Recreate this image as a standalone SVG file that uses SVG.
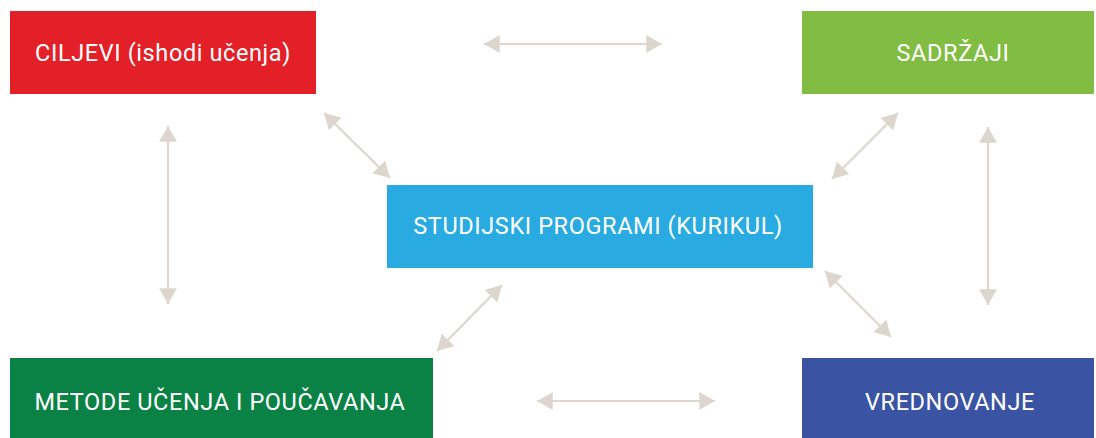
<svg xmlns="http://www.w3.org/2000/svg" width="1096" height="438" viewBox="0 0 1096 438">
<style>
.lbl{font-family:Roboto,"Liberation Sans",sans-serif;font-size:23.5px;fill:#fff;text-anchor:middle;letter-spacing:0.6px}
.con{stroke:#ddd6ce;stroke-width:2.2;fill:none;marker-start:url(#ah);marker-end:url(#ah)}
</style>
<defs>
<marker id="ah" markerUnits="userSpaceOnUse" markerWidth="16" markerHeight="18" refX="14" refY="8" orient="auto-start-reverse" viewBox="0 0 14 16">
<path d="M0,0 L14,8 L0,16 Z" fill="#ddd6ce"/>
</marker>
</defs>
<rect width="1096" height="438" fill="#fff"/>
<g id="connectors">
<path class="con" d="M484,44 L662,44"/>
<path class="con" d="M537,401 L715,401"/>
<path class="con" d="M168,126 L168,304"/>
<path class="con" d="M988,127 L988,305"/>
<path class="con" d="M324,113 L390,178"/>
<path class="con" d="M898,113 L832,179"/>
<path class="con" d="M502,285 L437,351"/>
<path class="con" d="M825,271 L891,337"/>
</g>
<g id="ciljevi">
<rect x="10" y="11" width="306" height="83" fill="#e31f27"/>
<text class="lbl" x="163" y="61">CILJEVI (ishodi učenja)</text>
</g>
<g id="sadrzaji">
<rect x="802" y="11" width="292" height="83" fill="#80bd42"/>
<text class="lbl" x="953" y="61">SADRŽAJI</text>
</g>
<g id="studijski">
<rect x="387" y="185" width="426" height="83" fill="#29abe2"/>
<text class="lbl" x="598" y="234">STUDIJSKI PROGRAMI (KURIKUL)</text>
</g>
<g id="metode">
<rect x="10" y="358" width="423" height="82" fill="#0b8245"/>
<text class="lbl" x="220" y="410">METODE UČENJA I POUČAVANJA</text>
</g>
<g id="vrednovanje">
<rect x="802" y="358" width="292" height="82" fill="#3a53a3"/>
<text class="lbl" x="950" y="410">VREDNOVANJE</text>
</g>
</svg>
